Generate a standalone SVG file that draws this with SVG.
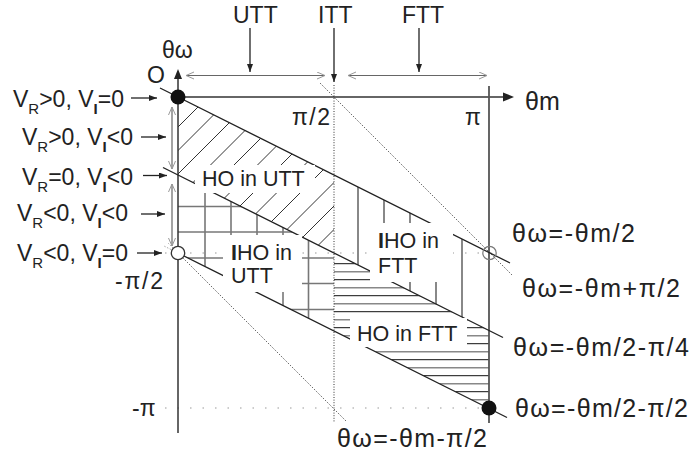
<svg xmlns="http://www.w3.org/2000/svg" width="691" height="456" viewBox="0 0 691 456">
<style>
text{font-family:"Liberation Sans",Arial,sans-serif;fill:#222}
.lbl{font-size:21.5px}
.big{font-size:23px}
.frm{font-size:25px}
.sub{font-size:15px}
.ax{stroke:#333;stroke-width:1.5;fill:none}
.ln{stroke:#222;stroke-width:1.3;fill:none}
.dot{stroke:#333;stroke-width:1;stroke-dasharray:1 1.6;fill:none}
.ldot{stroke:#999;stroke-width:1.2;stroke-dasharray:1.5 11;fill:none}
.arr{stroke:#222;stroke-width:1.3;fill:none;marker-end:url(#ah)}
.dbl{stroke:#666;stroke-width:1.2;fill:none;marker-start:url(#ch);marker-end:url(#ch)}
.hd{stroke:#333;stroke-width:1}
.gr{stroke:#777;stroke-width:1.6}
.vt{stroke:#888;stroke-width:2}
.hb{stroke:#111;stroke-width:1}
.hg{stroke:#888;stroke-width:1.6}
.box{fill:#fff}
</style>
<defs>
<marker id="ah" markerUnits="userSpaceOnUse" markerWidth="9" markerHeight="7" refX="8" refY="3" orient="auto"><path d="M0,0 L8,3 L0,6 z" fill="#222"/></marker>
<marker id="ch" markerUnits="userSpaceOnUse" markerWidth="10" markerHeight="9" refX="9" refY="4" orient="auto-start-reverse"><path d="M1,0.5 L9,4 L1,7.5" fill="none" stroke="#999" stroke-width="1"/></marker>
<clipPath id="p1"><polygon points="178,97 334,175 334,253 178,175"/></clipPath>
<clipPath id="p2"><polygon points="178,175 334,253 334,331 178,253"/></clipPath>
<clipPath id="p3"><polygon points="334,175 489,252.5 489,330.5 334,253"/></clipPath>
<clipPath id="p4"><polygon points="334,253 489,330.5 489,408.5 334,331"/></clipPath>
</defs>

<g id="hatch-ho-utt" clip-path="url(#p1)">
<line class="hd" x1="-155" y1="460" x2="245" y2="60"/>
<line class="hd" x1="-131.5" y1="460" x2="268.5" y2="60"/>
<line class="hd" x1="-108" y1="460" x2="292" y2="60"/>
<line class="hd" x1="-84.5" y1="460" x2="315.5" y2="60"/>
<line class="hd" x1="-61" y1="460" x2="339" y2="60"/>
<line class="hd" x1="-37.5" y1="460" x2="362.5" y2="60"/>
<line class="hd" x1="-14" y1="460" x2="386" y2="60"/>
<line class="hd" x1="9.5" y1="460" x2="409.5" y2="60"/>
<line class="hd" x1="33" y1="460" x2="433" y2="60"/>
<line class="hd" x1="56.5" y1="460" x2="456.5" y2="60"/>
<line class="hd" x1="80" y1="460" x2="480" y2="60"/>
<line class="hd" x1="103.5" y1="460" x2="503.5" y2="60"/>
<line class="hd" x1="127" y1="460" x2="527" y2="60"/>
</g>

<g id="hatch-iho-utt" clip-path="url(#p2)">
<line class="gr" x1="205" y1="150" x2="205" y2="350"/>
<line class="gr" x1="231" y1="150" x2="231" y2="350"/>
<line class="gr" x1="257" y1="150" x2="257" y2="350"/>
<line class="gr" x1="283" y1="150" x2="283" y2="350"/>
<line class="gr" x1="308.5" y1="150" x2="308.5" y2="350"/>
<line class="gr" x1="170" y1="206.5" x2="340" y2="206.5"/>
<line class="gr" x1="170" y1="232" x2="340" y2="232"/>
<line class="gr" x1="170" y1="258" x2="340" y2="258"/>
<line class="gr" x1="170" y1="283.5" x2="340" y2="283.5"/>
<line class="gr" x1="170" y1="309.5" x2="340" y2="309.5"/>
</g>

<g id="hatch-iho-ftt" clip-path="url(#p3)">
<line class="vt" x1="358" y1="160" x2="358" y2="340"/>
<line class="vt" x1="384" y1="160" x2="384" y2="340"/>
<line class="vt" x1="410" y1="160" x2="410" y2="340"/>
<line class="vt" x1="436" y1="160" x2="436" y2="340"/>
<line class="vt" x1="462" y1="160" x2="462" y2="340"/>
</g>

<g id="hatch-ho-ftt" clip-path="url(#p4)">
<line class="hb" x1="330" y1="263.7" x2="495" y2="263.7"/>
<line class="hg" x1="330" y1="271.7" x2="495" y2="271.7"/>
<line class="hb" x1="330" y1="279.7" x2="495" y2="279.7"/>
<line class="hg" x1="330" y1="287.7" x2="495" y2="287.7"/>
<line class="hb" x1="330" y1="295.7" x2="495" y2="295.7"/>
<line class="hg" x1="330" y1="303.7" x2="495" y2="303.7"/>
<line class="hb" x1="330" y1="311.7" x2="495" y2="311.7"/>
<line class="hg" x1="330" y1="319.7" x2="495" y2="319.7"/>
<line class="hb" x1="330" y1="327.7" x2="495" y2="327.7"/>
<line class="hg" x1="330" y1="335.7" x2="495" y2="335.7"/>
<line class="hb" x1="330" y1="343.7" x2="495" y2="343.7"/>
<line class="hg" x1="330" y1="351.7" x2="495" y2="351.7"/>
<line class="hb" x1="330" y1="359.7" x2="495" y2="359.7"/>
<line class="hg" x1="330" y1="367.7" x2="495" y2="367.7"/>
<line class="hb" x1="330" y1="375.7" x2="495" y2="375.7"/>
<line class="hg" x1="330" y1="383.7" x2="495" y2="383.7"/>
<line class="hb" x1="330" y1="391.7" x2="495" y2="391.7"/>
<line class="hg" x1="330" y1="399.7" x2="495" y2="399.7"/>
</g>

<g id="guides">
<line class="ldot" x1="165" y1="253" x2="496" y2="253"/>
<line class="ldot" x1="165" y1="408" x2="500" y2="408"/>
<line class="dot" x1="334" y1="85" x2="334" y2="423"/>
<line class="dot" x1="320" y1="83" x2="512" y2="275"/>
<line class="dot" x1="178" y1="253" x2="346" y2="421"/>
<line stroke="#aaa" stroke-width="1" stroke-dasharray="1.5 1.5" x1="171" y1="249.5" x2="164" y2="246"/>
<line stroke="#aaa" stroke-width="1" stroke-dasharray="1.5 1.5" x1="173" y1="248" x2="168" y2="243"/>
</g>

<g id="axes">
<line class="ax" x1="178" y1="76" x2="178" y2="433"/>
<path d="M178,69 L182,79 L174,79 z" fill="#222"/>
<line class="ax" x1="178" y1="97" x2="504" y2="97"/>
<path d="M514,97 L503,92.5 L503,101.5 z" fill="#222"/>
<line stroke="#555" stroke-width="1.8" x1="489" y1="86" x2="489" y2="423"/>
</g>

<g id="connectors">
<line class="ln" x1="160" y1="88" x2="510" y2="263"/>
<line class="ln" x1="163" y1="167.5" x2="503" y2="337.5"/>
<line class="ln" x1="178" y1="253" x2="507" y2="417.5"/>
<line class="arr" x1="250" y1="28" x2="250" y2="72"/>
<line class="arr" x1="334" y1="28" x2="334" y2="82"/>
<line class="arr" x1="419" y1="28" x2="419" y2="72"/>
<line class="dbl" x1="186" y1="75.5" x2="325" y2="75.5"/>
<line class="dbl" x1="348" y1="75.5" x2="487" y2="75.5"/>
<line class="dbl" x1="172" y1="107" x2="172" y2="169"/>
<line class="dbl" x1="172" y1="184" x2="172" y2="246"/>
<line class="arr" x1="131" y1="98" x2="157" y2="98"/>
<line class="arr" x1="141" y1="137" x2="166" y2="137"/>
<line class="arr" x1="143" y1="175.5" x2="167" y2="175.5"/>
<line class="arr" x1="141" y1="214" x2="165" y2="214"/>
<line class="arr" x1="137" y1="253" x2="162" y2="253"/>
</g>

<g id="points">
<circle cx="178" cy="97" r="7.5" fill="#111"/>
<circle cx="178" cy="253" r="6.7" fill="#fff" stroke="#333" stroke-width="1.3"/>
<circle cx="489.5" cy="253" r="6.7" fill="none" stroke="#777" stroke-width="1.2"/>
<circle cx="489" cy="408" r="7.5" fill="#111"/>
</g>

<g id="region-labels">
<rect class="box" x="195" y="165" width="120" height="28"/>
<rect class="box" x="223" y="235" width="79" height="57"/>
<rect class="box" x="370" y="223" width="83" height="59"/>
<rect class="box" x="350" y="318" width="117" height="29"/>
<text class="lbl" x="202" y="186">HO in UTT</text>
<text class="lbl" x="231" y="260"><tspan font-weight="bold">I</tspan>HO in</text>
<text class="lbl" x="231" y="283">UTT</text>
<text class="lbl" x="378" y="248"><tspan font-weight="bold">I</tspan>HO in</text>
<text class="lbl" x="378" y="273">FTT</text>
<text class="lbl" x="357" y="341">HO in FTT</text>
</g>

<g id="axis-labels">
<text class="big" x="233" y="23">UTT</text>
<text class="big" x="318" y="23">ITT</text>
<text class="big" x="402" y="23">FTT</text>
<text class="big" x="162" y="58">θω</text>
<text class="big" x="147" y="83">O</text>
<text class="frm" x="525" y="110">θm</text>
<text class="big" x="292" y="125" textLength="38">π/2</text>
<text class="big" x="465" y="125">π</text>
<text class="big" x="115" y="289" textLength="48">-π/2</text>
<text class="big" x="132" y="416">-π</text>
</g>

<g id="state-labels">
<text class="big" x="13" y="107">V<tspan class="sub" dy="7">R</tspan><tspan dy="-7">&gt;0, V</tspan><tspan class="sub" font-weight="bold" dy="7">I</tspan><tspan dy="-7">=0</tspan></text>
<text class="big" x="22" y="145">V<tspan class="sub" dy="7">R</tspan><tspan dy="-7">&gt;0, V</tspan><tspan class="sub" font-weight="bold" dy="7">I</tspan><tspan dy="-7">&lt;0</tspan></text>
<text class="big" x="22" y="185">V<tspan class="sub" dy="7">R</tspan><tspan dy="-7">=0, V</tspan><tspan class="sub" font-weight="bold" dy="7">I</tspan><tspan dy="-7">&lt;0</tspan></text>
<text class="big" x="17" y="221">V<tspan class="sub" dy="7">R</tspan><tspan dy="-7">&lt;0, V</tspan><tspan class="sub" font-weight="bold" dy="7">I</tspan><tspan dy="-7">&lt;0</tspan></text>
<text class="big" x="17" y="261">V<tspan class="sub" dy="7">R</tspan><tspan dy="-7">&lt;0, V</tspan><tspan class="sub" font-weight="bold" dy="7">I</tspan><tspan dy="-7">=0</tspan></text>
</g>

<g id="line-labels">
<text class="frm" x="512" y="242" textLength="123">θω=-θm/2</text>
<text class="frm" x="522" y="297" textLength="158">θω=-θm+π/2</text>
<text class="frm" x="513" y="356" textLength="176">θω=-θm/2-π/4</text>
<text class="frm" x="515" y="417" textLength="173">θω=-θm/2-π/2</text>
<text class="frm" x="337" y="447" textLength="150">θω=-θm-π/2</text>
</g>
</svg>
